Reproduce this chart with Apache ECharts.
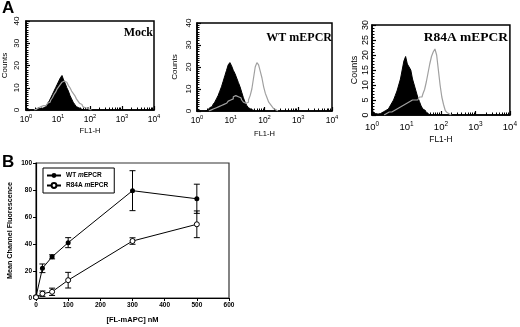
<!DOCTYPE html>
<html><head><meta charset="utf-8">
<script src="https://cdn.jsdelivr.net/npm/echarts@6/dist/echarts.min.js"></script>
<style>html,body{margin:0;padding:0;background:#fff}#c{width:520px;height:327px}</style>
</head><body><div id="c"></div>
<script>
// ---- Panel A histograms (x in log10 decades of FL1-H, bin width 0.05 decade) ----
const binStep = 0.05;
const decadeTicks = [0, 1, 2, 3, 4];
const mockControlStart = 0.3;
const mockControl = [0.5,0.5,1,0.5,1,1,1.5,2,3,4,5.5,7,8.5,10,11.5,13,14.5,15.5,13.5,12,10,8.5,6.5,5,3.5,2.5,1.5,1,0.5,0.3,0];
const mockSampleStart = 0.3;
const mockSample = [0.3,0.5,1,1.5,1.5,2,2,2.5,3,3.5,4.5,5.5,7,8,9.5,10.5,11.5,12.5,13,12.5,12,11,10,8.5,7.5,6.5,5,4,3,2.5,1.5,1,0.8,0.5,0.2,0];
const wtControlStart = 0.3;
const wtControl = [0.5,1,1.5,2,3,4,5.5,7,9,11,13.5,16,18.5,21,22,20.5,18.5,17,15,13,11,8.5,6,4,2.5,1.5,0.8,0.3,0];
const wtSampleStart = 0.4;
const wtSample = [0.5,1,1,1.5,1.5,2,2.5,2.5,3,3.5,4,4.5,5,5.5,6.5,7,6.5,6.5,6,5,4,3.5,4,5,7,10,15,20,22,21,18,15,11,8,6,4,3,2,1,0.5,0];
const r84aControlStart = 0.0;
const r84aControl = [9,1,0.5,0.3,0.5,0.5,1,1.2,1.5,2,2.5,3,4,5,6.5,8,10,12,15,18,19.5,17,16,15,12,10,8,6,4.5,3,2,1.5,0.8,0.3,0];
const r84aSampleStart = 0.4;
const r84aSample = [0.5,0.8,1,1,1.5,1.5,2,2,2.5,3,3,3.5,4,4,4.5,5,4.5,5,5,5.5,6,6,7,8.5,11,14,17,19.5,21,22,20,15,10,6,3.5,1.5,0.8,0.3,0];
const countTicksA = [0, 10, 20, 30, 40];
const countTicksR84A = [0, 5, 10, 15, 20, 25, 30];
const panelTitles = ['Mock', 'WT mEPCR', 'R84A mEPCR'];

// ---- Panel B ----
const concentrations = [0, 20, 50, 100, 300, 500];
const wtMean = [1, 22, 30.5, 41, 79.5, 73.5];
const wtErr = [0.5, 3.2, 1.5, 3.7, 14.8, 10.8];
const r84aMean = [0.5, 3.2, 4.6, 13.2, 42.2, 54.6];
const r84aErr = [0.4, 2, 2.7, 5.8, 2.4, 9.9];
const seriesNames = ['WT mEPCR', 'R84A mEPCR'];

const SANS = 'Liberation Sans, Arial, sans-serif';
const SERIF = 'Liberation Serif, Times New Roman, serif';

function bins(start, counts) {
  const out = [[start - binStep, 0]];
  counts.forEach((c, i) => out.push([+(start + i * binStep).toFixed(3), c]));
  return out;
}
const minorLog = [];
for (let n = 0; n < 4; n++) for (let k = 2; k <= 9; k++) minorLog.push(n + Math.log10(k));

const grids = [
  {left: 26, top: 21, width: 128, height: 89},
  {left: 197, top: 23, width: 135, height: 88},
  {left: 372, top: 25, width: 142, height: 90},
  {left: 36, top: 163, right: 291, bottom: 29}
];
const histCfg = [
  {ymax: 40, interval: 10, minor: 10, scale: 1, lblMargin: 3, nameGap: 8, yLblMargin: 5, yNameGap: 17},
  {ymax: 40, interval: 10, minor: 10, scale: 1, lblMargin: 3, nameGap: 10, yLblMargin: 4, yNameGap: 18},
  {ymax: 30, interval: 5, minor: 5, scale: 1.12, lblMargin: 6, nameGap: 11, yLblMargin: 2, yNameGap: 13}
];

const xAxes = [], yAxes = [], series = [];
histCfg.forEach((c, g) => {
  const fs = 8.5 * c.scale;
  xAxes.push({
    type: 'value', gridIndex: g, min: 0, max: 4, interval: 1,
    name: 'FL1-H', nameLocation: 'middle', nameGap: c.nameGap + fs,
    nameTextStyle: {fontFamily: SANS, fontSize: 7.5 * c.scale, color: '#000'},
    axisLine: {lineStyle: {color: '#000', width: 1.5}},
    axisTick: {inside: true, length: 4, lineStyle: {color: '#000', width: 1.2}},
    splitLine: {show: false},
    axisLabel: {
      margin: c.lblMargin, color: '#000',
      formatter: v => '{b|10}{s|' + v + '}',
      rich: {
        b: {fontFamily: SANS, fontSize: fs, color: '#000', verticalAlign: 'bottom'},
        s: {fontFamily: SANS, fontSize: fs * 0.68, color: '#000', padding: [0, 0, fs * 0.55, 0], verticalAlign: 'bottom'}
      }
    }
  });
  xAxes.push({
    type: 'value', gridIndex: g, min: 0, max: 4, position: 'bottom',
    axisLine: {show: false}, axisLabel: {show: false}, splitLine: {show: false},
    axisTick: {inside: true, length: 2.5, customValues: minorLog, lineStyle: {color: '#000', width: 1}}
  });
  yAxes.push({
    type: 'value', gridIndex: g, min: 0, max: c.ymax, interval: c.interval,
    name: 'Counts', nameLocation: 'middle', nameGap: c.yNameGap,
    nameTextStyle: {fontFamily: SANS, fontSize: 8 * c.scale, color: '#000'},
    axisLine: {show: true, lineStyle: {color: '#000', width: 1.5}},
    axisTick: {inside: true, length: 4, lineStyle: {color: '#000', width: 1.2}},
    minorTick: {show: true, splitNumber: c.minor, length: 2.5, lineStyle: {color: '#000'}},
    splitLine: {show: false},
    axisLabel: {rotate: 90, margin: c.yLblMargin, fontFamily: SANS, fontSize: 8 * c.scale, color: '#000'}
  });
});
grids.forEach((g, i) => { if (i < 3) { g.show = true; g.borderColor = '#000'; g.borderWidth = 1.5; } });

const histData = [
  [mockControlStart, mockControl, mockSampleStart, mockSample],
  [wtControlStart, wtControl, wtSampleStart, wtSample],
  [r84aControlStart, r84aControl, r84aSampleStart, r84aSample]
];
histData.forEach((h, g) => {
  series.push({
    type: 'line', xAxisIndex: g * 2, yAxisIndex: g, step: 'middle', symbol: 'none',
    data: bins(h[0], h[1]), lineStyle: {color: '#000', width: 1},
    areaStyle: {color: '#000', opacity: 1}, silent: true, z: 2
  });
  series.push({
    type: 'line', xAxisIndex: g * 2, yAxisIndex: g, step: 'middle', symbol: 'none',
    data: bins(h[2], h[3]), lineStyle: {color: '#a0a0a0', width: 1.2}, silent: true, z: 3
  });
});

// Panel B axes
xAxes.push({
  type: 'value', gridIndex: 3, min: 0, max: 600, interval: 100,
  name: '[FL-mAPC] nM', nameLocation: 'middle', nameGap: 18,
  nameTextStyle: {fontFamily: SANS, fontSize: 7.5, fontWeight: 'bold', color: '#000'},
  axisLine: {lineStyle: {color: '#000', width: 1.2}},
  axisTick: {length: 3, lineStyle: {color: '#000'}},
  splitLine: {show: false},
  axisLabel: {margin: 4, fontFamily: SANS, fontSize: 6.5, fontWeight: 'bold', color: '#000'}
});
yAxes.push({
  type: 'value', gridIndex: 3, min: 0, max: 100, interval: 20,
  name: 'Mean Channel Fluorescence', nameLocation: 'middle', nameGap: 22,
  nameTextStyle: {fontFamily: SANS, fontSize: 7.2, fontWeight: 'bold', color: '#000'},
  axisLine: {show: true, lineStyle: {color: '#000', width: 1.2}},
  axisTick: {show: true, length: 3, lineStyle: {color: '#000'}},
  splitLine: {show: false},
  axisLabel: {margin: 4, fontFamily: SANS, fontSize: 6.5, fontWeight: 'bold', color: '#000'}
});
grids[3].show = true; grids[3].borderColor = '#333'; grids[3].borderWidth = 1.2;

const bx = xAxes.length - 1, by = yAxes.length - 1;
function errRender(params, api) {
  const x = api.value(0), m = api.value(1), e = api.value(2);
  const hi = api.coord([x, m + e]), lo = api.coord([x, m - e]);
  const w = 3;
  const st = {stroke: '#000', lineWidth: 1};
  return {type: 'group', children: [
    {type: 'line', shape: {x1: hi[0], y1: hi[1], x2: lo[0], y2: lo[1]}, style: st},
    {type: 'line', shape: {x1: hi[0] - w, y1: hi[1], x2: hi[0] + w, y2: hi[1]}, style: st},
    {type: 'line', shape: {x1: lo[0] - w, y1: lo[1], x2: lo[0] + w, y2: lo[1]}, style: st}
  ]};
}
[[wtMean, wtErr], [r84aMean, r84aErr]].forEach(([m, e]) => {
  series.push({
    type: 'custom', xAxisIndex: bx, yAxisIndex: by, renderItem: errRender, silent: true, z: 3,
    data: concentrations.map((x, i) => [x, m[i], e[i]]), clip: false
  });
});
series.push({
  name: seriesNames[0], type: 'line', xAxisIndex: bx, yAxisIndex: by,
  data: concentrations.map((x, i) => [x, wtMean[i]]),
  symbol: 'circle', symbolSize: 5, itemStyle: {color: '#000'},
  lineStyle: {color: '#000', width: 1}, z: 4
});
series.push({
  name: seriesNames[1], type: 'line', xAxisIndex: bx, yAxisIndex: by,
  data: concentrations.map((x, i) => [x, r84aMean[i]]),
  symbol: 'circle', symbolSize: 5, itemStyle: {color: '#fff', borderColor: '#000', borderWidth: 1},
  lineStyle: {color: '#000', width: 1}, z: 4
});

const titles = [
  {text: 'A', left: 2, top: 0, padding: 0, textStyle: {fontFamily: SANS, fontSize: 17, fontWeight: 'bold', color: '#000'}},
  {text: 'B', left: 2, top: 154, padding: 0, textStyle: {fontFamily: SANS, fontSize: 17, fontWeight: 'bold', color: '#000'}},
  {text: panelTitles[0], right: 520 - 153, top: 27, padding: 0, textStyle: {fontFamily: SERIF, fontSize: 12, fontWeight: 'bold', color: '#000'}},
  {text: panelTitles[1], right: 520 - 332, top: 32, padding: 0, textStyle: {fontFamily: SERIF, fontSize: 12, fontWeight: 'bold', color: '#000'}},
  {text: panelTitles[2], right: 520 - 508, top: 31, padding: 0, textStyle: {fontFamily: SERIF, fontSize: 13.5, fontWeight: 'bold', color: '#000'}}
];

const chart = echarts.init(document.getElementById('c'), null, {renderer: 'canvas'});
chart.setOption({
  animation: false,
  backgroundColor: '#fff',
  title: titles,
  grid: grids,
  xAxis: xAxes,
  yAxis: yAxes,
  legend: {
    data: seriesNames, left: 43, top: 168, orient: 'vertical',
    padding: [4, 6, 4, 3], itemGap: 3, itemWidth: 14, itemHeight: 6,
    borderColor: '#000', borderWidth: 1,
    formatter: n => n.replace(' m', ' {i|m}'),
    textStyle: {fontFamily: SANS, fontSize: 6.5, fontWeight: 'bold', color: '#000',
      rich: {i: {fontFamily: SANS, fontSize: 6.5, fontWeight: 'bold', fontStyle: 'italic', color: '#000'}}}
  },
  series: series
});
</script></body></html>
